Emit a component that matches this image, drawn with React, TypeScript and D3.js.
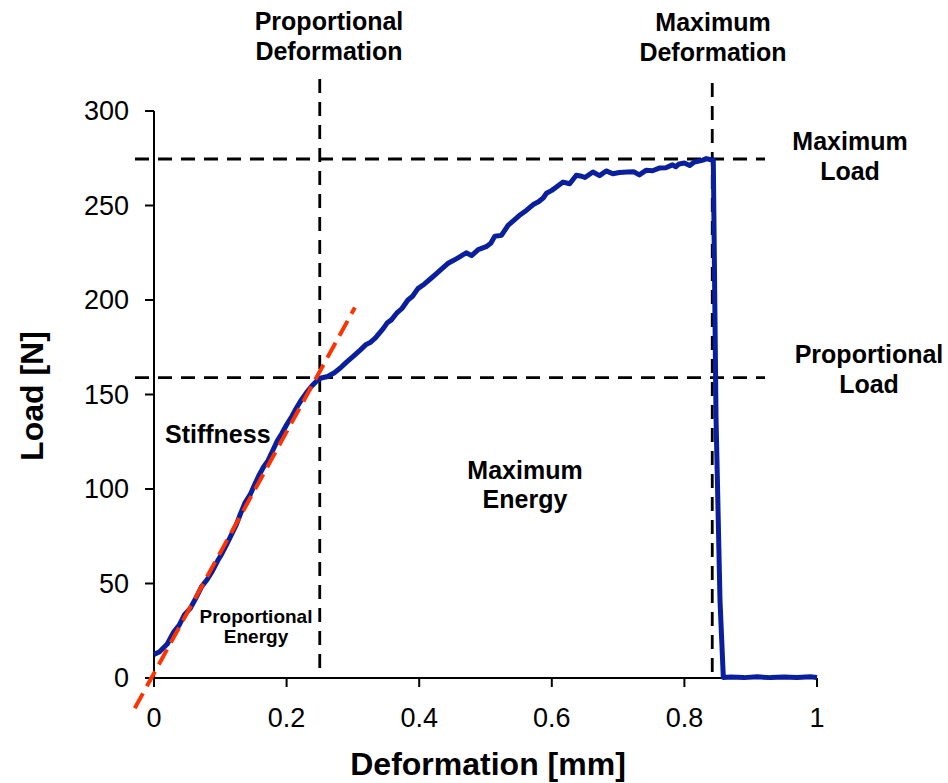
import React from "react";
import * as d3 from "d3";

// Load–deformation record of the specimen (mm, N)
const deformation = [
  0.0, 0.008, 0.02, 0.03, 0.038, 0.046, 0.055, 0.062, 0.072, 0.08, 0.088, 0.096, 0.102, 0.11, 0.117,
  0.124, 0.13, 0.137, 0.145, 0.152, 0.158, 0.165, 0.172, 0.18, 0.186, 0.193, 0.2, 0.208, 0.215, 0.222,
  0.23, 0.238, 0.245, 0.252, 0.262, 0.272, 0.281, 0.29, 0.3, 0.311, 0.32, 0.326, 0.334, 0.346, 0.352,
  0.358, 0.366, 0.374, 0.383, 0.39, 0.398, 0.408, 0.418, 0.426, 0.434, 0.443, 0.452, 0.461, 0.471,
  0.479, 0.489, 0.501, 0.508, 0.514, 0.524, 0.534, 0.544, 0.552, 0.562, 0.572, 0.58, 0.587, 0.592,
  0.6, 0.607, 0.617, 0.627, 0.637, 0.645, 0.65, 0.662, 0.672, 0.682, 0.692, 0.702, 0.714, 0.724,
  0.732, 0.742, 0.752, 0.762, 0.772, 0.782, 0.787, 0.792, 0.8, 0.808, 0.815, 0.822, 0.828, 0.833,
  0.84, 0.8436, 0.8477, 0.8537, 0.8587, 0.87, 0.89, 0.91, 0.93, 0.95, 0.97, 0.99, 1.0,
];
const load = [
  12.5, 13.8, 18, 24.5, 28, 33.5, 37, 41.5, 48.5, 52, 56.5, 62, 65.5, 71, 76,
  81, 86.5, 92.5, 97, 102.5, 107, 111.5, 115, 121, 125.5, 129.5, 134, 138.5, 143, 147,
  151, 154.5, 157, 158.7, 159.5, 161.5, 164, 167, 170, 173.5, 176.5, 177.5, 180, 185, 188,
  189.5, 193, 195.5, 200, 202, 206, 208.5, 211.5, 214, 216.5, 219.3, 221, 222.8, 225,
  223.5, 226.7, 228.2, 230, 233.7, 234.2, 239.5, 242.5, 245, 247.5, 250.5, 252, 254, 256.5,
  258, 259.8, 262.4, 261.5, 266, 265.5, 264.8, 267.7, 265.8, 268.3, 266.8, 267.5, 267.7, 267.8,
  266.2, 268.6, 268.4, 269.8, 270, 271.5, 270.5, 272, 272.5, 271.2, 273, 273.5, 274, 274.8,
  274.2, 274, 138, 41, 0.3, 0.5, 0.2, 0.6, 0.2, 0.5, 0.3, 0.7, 0.3,
];

// Linear fit of the elastic region (stiffness), endpoints of the drawn segment
const stiffnessX = [-0.029, 0.303];
const stiffnessY = [-16, 196];

// Characteristic values
const proportionalDeformation = 0.25;
const maximumDeformation = 0.842;
const proportionalLoad = 158.9;
const maximumLoad = 274.6;

const xTicks = [0, 0.2, 0.4, 0.6, 0.8, 1];
const yTicks = [0, 50, 100, 150, 200, 250, 300];

const W = 948;
const H = 783;
const FONT = "'Liberation Sans', Arial, Helvetica, sans-serif";

export default function App() {
  const x = d3.scaleLinear().domain([0, 1]).range([154, 817]);
  const y = d3.scaleLinear().domain([0, 300]).range([678, 111]);

  const points = deformation.map((d, i) => [d, load[i]] as [number, number]);
  const curve = d3
    .line<[number, number]>()
    .x((d) => x(d[0]))
    .y((d) => y(d[1]))(points);

  const fit = d3
    .line<[number, number]>()
    .x((d) => x(d[0]))
    .y((d) => y(d[1]))(stiffnessX.map((v, i) => [v, stiffnessY[i]] as [number, number]));

  const guideTop = 79;
  const guideLeft = 135;
  const guideRight = 765;
  const dash = "14 9";

  const label = (lines: string[], cx: number, baseline: number, size: number, gap: number) => (
    <text
      textAnchor="middle"
      fontFamily={FONT}
      fontWeight="bold"
      fontSize={size}
      fill="#000"
    >
      {lines.map((t, i) => (
        <tspan key={i} x={cx} y={baseline + i * gap}>
          {t}
        </tspan>
      ))}
    </text>
  );

  return (
    <svg
      width={W}
      height={H}
      style={{ position: "absolute", left: 0, top: 0, background: "#fff" }}
    >
      <rect width={W} height={H} fill="#fff" />

      {/* guide lines */}
      <g stroke="#000" strokeWidth={2.8} strokeDasharray={dash} fill="none">
        <line x1={x(proportionalDeformation)} x2={x(proportionalDeformation)} y1={guideTop} y2={y(0)} />
        <line x1={x(maximumDeformation)} x2={x(maximumDeformation)} y1={guideTop + 4} y2={y(0)} />
        <line x1={guideLeft} x2={guideRight} y1={y(maximumLoad)} y2={y(maximumLoad)} />
        <line x1={guideLeft} x2={guideRight} y1={y(proportionalLoad)} y2={y(proportionalLoad)} />
      </g>

      {/* axes */}
      <g stroke="#000" strokeWidth={2}>
        <line x1={x(0)} x2={x(0)} y1={y(300)} y2={y(0)} />
        <line x1={x(0)} x2={x(1)} y1={y(0)} y2={y(0)} />
        {yTicks.map((t) => (
          <line key={"yt" + t} x1={x(0) - 9} x2={x(0)} y1={y(t)} y2={y(t)} />
        ))}
        {xTicks.map((t) => (
          <line key={"xt" + t} x1={x(t)} x2={x(t)} y1={y(0)} y2={y(0) + 9} />
        ))}
      </g>
      <g fontFamily={FONT} fontSize={27} fill="#000">
        {yTicks.map((t) => (
          <text key={"yl" + t} x={129} y={y(t)} dy="0.35em" textAnchor="end">
            {t}
          </text>
        ))}
        {xTicks.map((t) => (
          <text key={"xl" + t} x={x(t)} y={727} textAnchor="middle">
            {d3.format("~g")(t)}
          </text>
        ))}
      </g>

      {/* load curve */}
      <path d={curve ?? ""} fill="none" stroke="#0a1f9e" strokeWidth={5} strokeLinejoin="round" />

      {/* stiffness fit */}
      <path d={fit ?? ""} fill="none" stroke="#ff3300" strokeWidth={4} strokeDasharray="17 8" />

      {/* axis titles */}
      <text
        x={488}
        y={775}
        textAnchor="middle"
        fontFamily={FONT}
        fontWeight="bold"
        fontSize={32}
      >
        Deformation [mm]
      </text>
      <text
        transform="translate(43,396) rotate(-90)"
        textAnchor="middle"
        fontFamily={FONT}
        fontWeight="bold"
        fontSize={32}
      >
        Load [N]
      </text>

      {/* annotations */}
      {label(["Proportional", "Deformation"], 329, 30, 25, 30)}
      {label(["Maximum", "Deformation"], 713, 31, 25, 30)}
      {label(["Maximum", "Load"], 850, 150, 25, 30)}
      {label(["Proportional", "Load"], 869, 363, 25, 30)}
      {label(["Maximum", "Energy"], 525, 479, 25, 29)}
      {label(["Proportional", "Energy"], 256, 623, 19, 20)}
      <text x={165} y={443} fontFamily={FONT} fontWeight="bold" fontSize={25}>
        Stiffness
      </text>
    </svg>
  );
}
